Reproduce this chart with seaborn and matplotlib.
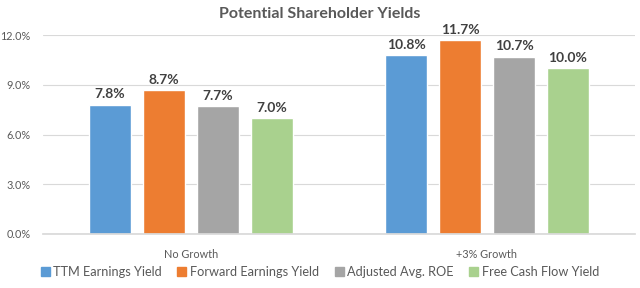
import matplotlib
matplotlib.use("Agg")
import matplotlib.pyplot as plt
import seaborn as sns
import pandas as pd
from matplotlib.ticker import FuncFormatter

categories = ["No Growth", "+3% Growth"]
series = ["TTM Earnings Yield", "Forward Earnings Yield", "Adjusted Avg. ROE", "Free Cash Flow Yield"]
values = {
    "TTM Earnings Yield": [7.8, 10.8],
    "Forward Earnings Yield": [8.7, 11.7],
    "Adjusted Avg. ROE": [7.7, 10.7],
    "Free Cash Flow Yield": [7.0, 10.0],
}
colors = ["#5B9BD5", "#ED7D31", "#A5A5A5", "#A9D18E"]
yticks = [0, 3, 6, 9, 12]

rows = []
for s in series:
    for c, v in zip(categories, values[s]):
        rows.append({"Category": c, "Series": s, "Value": v})
df = pd.DataFrame(rows)

sns.set_theme(style="white")
plt.rcParams["font.family"] = ["Lato", "DejaVu Sans"]

fig = plt.figure(figsize=(6.4, 2.88), dpi=100)
ax = fig.add_axes([43/640, 1-234/288, (635-43)/640, (234-35)/288])

sns.barplot(data=df, x="Category", y="Value", hue="Series", order=categories,
            hue_order=series, palette=colors, width=0.73, gap=0.22,
            saturation=1, ax=ax, legend=True)

ax.set_ylim(0, 12)
ax.set_yticks(yticks)
ax.yaxis.set_major_formatter(FuncFormatter(lambda v, p: f"{v:.1f}%"))
ax.grid(axis="y", color="#D9D9D9", linewidth=0.8)
ax.set_axisbelow(True)
for sp in ["top", "right", "left"]:
    ax.spines[sp].set_visible(False)
ax.spines["bottom"].set_color("#D9D9D9")
ax.tick_params(axis="both", length=0, labelsize=7.8, labelcolor="#595959")
ax.tick_params(axis="x", pad=11)
ax.tick_params(axis="y", pad=9)
ax.set_xlabel("")
ax.set_ylabel("")

for cont in ax.containers:
    ax.bar_label(cont, fmt="%.1f%%", padding=3, fontsize=10, fontweight="bold", color="#404040")

fig.suptitle("Potential Shareholder Yields", x=0.5, y=1-14/288, va="center",
             fontsize=11.5, fontweight="bold", color="#595959")

ax.legend_.remove()
handles = [plt.Rectangle((0, 0), 1, 1, color=c) for c in colors]
fig.legend(handles, series, loc="center", bbox_to_anchor=(0.5, 1-272/288), ncol=4,
           frameon=False, fontsize=9.2, handlelength=0.7, handleheight=0.7,
           handletextpad=0.3, columnspacing=1.2, labelcolor="#595959")

fig.savefig("out.png", dpi=100)
